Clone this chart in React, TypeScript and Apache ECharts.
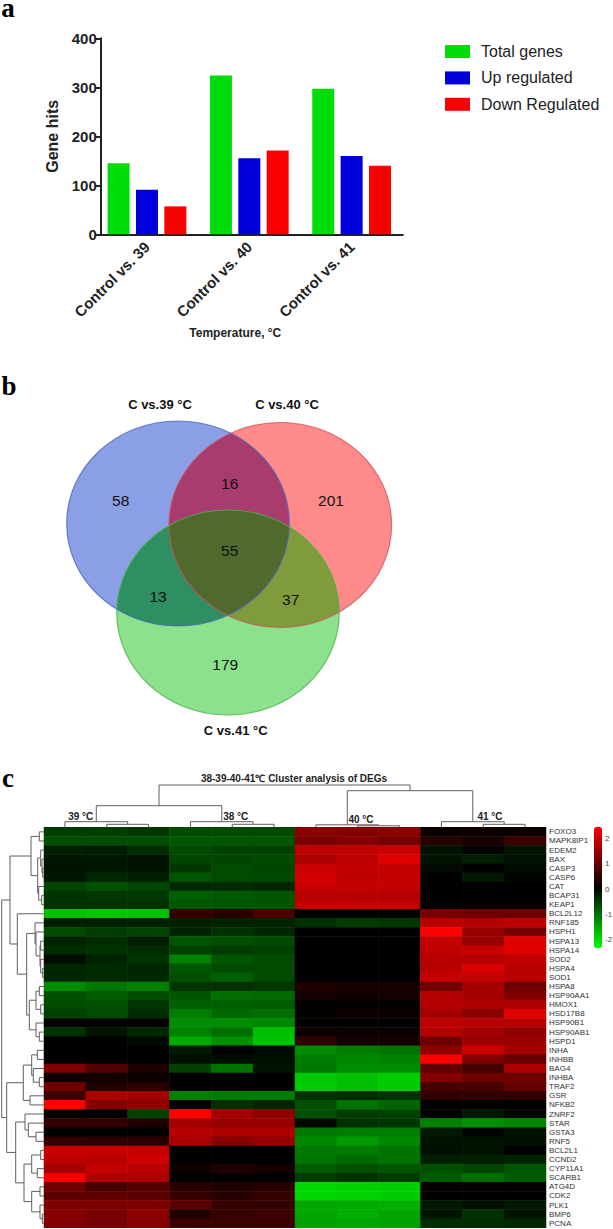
import React, { useEffect, useRef } from "react";
import * as echarts from "echarts";

const SANS = "Liberation Sans";
const barCategories = ["Control vs. 39", "Control vs. 40", "Control vs. 41"];
const totalGenes = [145, 324, 297];
const upRegulated = [91, 155, 160];
const downRegulated = [57, 171, 140];

const vennSets = [
  { name: "C vs.39 °C", cx: 178, cy: 523.5, fill: "#8a9fe6", stroke: "#4a63bd" },
  { name: "C vs.40 °C", cx: 280.3, cy: 525, fill: "#ff8a8a", stroke: "#c9505f" },
  { name: "C vs.41 °C", cx: 228, cy: 612.5, fill: "#8ce28c", stroke: "#4db04d" },
];
const vennCounts = [58, 201, 179, 16, 13, 37, 55];
const vennCountPos = [
  [120.7, 500], [331, 500], [225.3, 664.3], [229.7, 483.3], [158, 596.7], [290.7, 599], [229.7, 550],
];

const genes = ["FOXO3","MAPK8IP1","EDEM2","BAX","CASP3","CASP6","CAT","BCAP31","KEAP1","BCL2L12","RNF185","HSPH1","HSPA13","HSPA14","SOD2","HSPA4","SOD1","HSPA8","HSP90AA1","HMOX1","HSD17B8","HSP90B1","HSP90AB1","HSPD1","INHA","INHBB","BAG4","INHBA","TRAF2","GSR","NFKB2","ZNRF2","STAR","GSTA3","RNF5","BCL2L1","CCND2","CYP11A1","SCARB1","ATG4D","CDK2","PLK1","BMP6","PCNA"];
const samples = ["39-1","39-2","39-3","38-1","38-2","38-3","40-1","40-2","40-3","41-1","41-2","41-3"];

const values39 = [
  [-.56,-.58,-.52],[-.73,-.73,-.73],[-.28,-.26,-.42],[-.21,-.21,-.19],[-.19,-.21,-.17],[-.21,-.38,-.28],[-.66,-.75,-.66],[-.47,-.52,-.52],[-.47,-.47,-.47],[-1.79,-1.88,-1.84],[-.3,-.28,-.28],
  [-.71,-.56,-.66],[-.33,-.42,-.28],[-.42,-.47,-.42],[-.11,-.33,-.47],[-.36,-.4,-.38],[-.38,-.4,-.38],[-1.32,-1.13,-1.22],[-.75,-.85,-.71],[-.71,-.75,-.52],[-.61,-.71,-.42],[0,0,0],[-.47,-.19,-.38],
  [0,0,-.09],[0,0,0],[0,0,0],[1.22,.75,.28],[.14,.19,.14],[1.04,.28,.38],[.56,1.65,1.55],[2.4,1.22,1.36],[0,0,-.61],[.47,.47,.28],[0,0,0],[.47,.42,.42],[1.88,1.88,1.84],[1.79,1.74,1.98],[1.55,1.84,1.74],[2.31,1.65,1.65],[1.04,.66,.8],[.85,.89,.85],[1.18,1.18,1.18],[1.27,1.13,1.32],[1.22,1.13,1.27],
];
const values38 = [
  [-.71,-.71,-.71],[-.8,-.8,-.8],[-.71,-.61,-.61],[-.66,-.66,-.71],[-.52,-.71,-.66],[-.8,-.71,-.71],[-.38,-.4,-.36],[-.89,-.85,-.8],[-.8,-.8,-.8],[.52,.38,.71],[-.3,-.33,-.33],
  [-.33,-.47,-.38],[-.8,-.75,-.71],[-.61,-.56,-.61],[-1.22,-.8,-.71],[-.8,-.71,-.71],[-.75,-.89,-.71],[-.52,-.47,-.52],[-.8,-1.04,-.99],[-.89,-.89,-.85],[-1.18,-.99,-1.04],[-1.32,-1.32,-1.27],[-1.22,-1.04,-1.79],
  [-1.6,-1.36,-1.84],[-.24,0,-.09],[-.14,-.11,-.14],[-.61,-1.08,-.19],[0,0,0],[0,0,0],[-1.22,-1.18,-1.18],[0,-.42,-.33],[2.4,1.55,1.32],[1.55,1.41,1.41],[1.69,1.65,1.65],[1.6,1.27,1.41],[0,0,0],[0,0,0],[.14,.28,.19],[0,0,0],[.38,.28,.38],[.52,.38,.52],[.85,.52,.47],[.28,.52,.56],[.56,.56,.56],
];
const values40 = [
  [1.32,1.27,1.32],[1.13,1.22,1.08],[1.79,1.79,1.84],[1.6,1.79,2.12],[1.88,1.84,1.84],[1.98,1.79,1.84],[1.88,1.84,1.84],[1.74,1.74,1.69],[1.84,1.79,1.79],[0,0,0],[-.47,-.56,-.52],
  [0,0,0],[0,0,0],[0,0,0],[0,0,0],[0,0,0],[0,0,0],[.28,.24,.24],[.19,.14,.19],[.05,.05,.05],[.05,.11,.08],[0,0,0],[.14,.11,.09],
  [.47,.19,.19],[-1.32,-1.18,-1.08],[-1.18,-1.27,-1.22],[-1.13,-1.32,-1.32],[-1.88,-1.79,-1.93],[-1.93,-1.79,-1.93],[-.47,-.42,-.47],[-.75,-1.08,-.94],[-.75,-.56,-.61],[-.09,-.47,-.52],[-1.13,-1.18,-1.18],[-1.27,-1.46,-1.27],[-1.13,-1.18,-1.08],[-1.08,-.99,-1.08],[-.85,-.75,-.8],[-.56,-.47,-.56],[-2.02,-1.98,-1.93],[-2.02,-1.98,-1.93],[-1.55,-1.6,-1.65],[-1.55,-1.65,-1.55],[-1.51,-1.55,-1.51],
];
const values41 = [
  [.09,.11,.09],[.38,.24,.56],[-.17,.05,-.19],[-.19,-.28,-.17],[-.09,0,-.11],[0,-.24,-.05],[0,0,0],[0,0,0],[0,0,0],[1.13,1.04,1.04],[1.74,1.69,1.79],
  [2.4,1.41,1.13],[1.84,1.41,2.12],[1.79,1.88,2.12],[1.74,1.69,1.79],[1.74,2.02,1.74],[1.88,1.84,1.74],[1.08,1.55,1.04],[1.69,1.55,1.22],[1.69,1.65,1.6],[1.55,1.32,2.12],[1.79,1.74,1.74],[1.69,1.51,1.36],
  [1.04,1.46,1.46],[1.32,1.93,1.55],[2.4,1.22,.94],[.94,.66,1.6],[1.22,1.04,1.04],[.66,.66,.94],[.47,.47,.47],[0,.03,0],[0,-.24,-.05],[-1.22,-1.36,-1.27],[-.24,-.05,-.17],[-.17,-.19,-.14],[-.14,-.17,0],[-.28,-.28,-.33],[-.75,-.66,-.8],[-.85,-1.04,-.85],[.05,.05,.05],[0,0,0],[-.24,-.14,-.24],[-.19,-.47,-.19],[-.42,-.42,-.38],
];
const heatTemps = [values39, values38, values40, values41];
const groupLabels = [
  { text: "39 °C", x: 80.7, y: 816.7 }, { text: "38 °C", x: 235.7, y: 816.7 },
  { text: "40 °C", x: 361, y: 819.3 }, { text: "41 °C", x: 490, y: 816.7 },
];
const colorbarTicks = [2, 1, 0, -1, -2];

// dendrograms: [height, left child, right child]; a number is a leaf index
type T = number | [number, T, T];
const columnTree: T = [42.3,
  [21.6, [5.6, 0, [3, 1, 2]], [5.6, 3, [3, 4, 5]]],
  [36.6, [2.5, 6, [1.5, 7, 8]], [5.6, 9, [3, 10, 11]]]];
const rowTree: T = [42.3,
  [34,
    [13, [4.7, 0, 1], [6.3, [3.3, 2, [2, 3, [1.3, 4, 5]]], [5.3, 6, [2.3, 7, 8]]]],
    [26.7, 9, [17.3,
      [9, 10, [8, 11, [4, [3.3, 12, 13], [3.3, 14, [1.3, 15, 16]]]]],
      [14.7, [8, [4.7, 17, 18], [3.3, 19, 20]], [8, 21, [4.7, 22, 23]]]]]],
  [37.3,
    [20.7, [12.3, [6.7, 24, 25], [10.7, 26, [4.7, 27, 28]]], [14, 29, 30]],
    [28.3, [19, 31, [15.7, 32, [8, 33, 34]]],
      [20, [12.3, [3.3, 35, 36], [6.7, 37, 38]], [12.3, [4, 39, 40], [4, 41, [1.7, 42, 43]]]]]]];

function flatten(t: T, out: number[][]): { pos: number; h: number } {
  if (typeof t === "number") return { pos: t + 0.5, h: 0 };
  const a = flatten(t[1], out);
  const b = flatten(t[2], out);
  out.push([a.pos, a.h, b.pos, b.h, t[0]]);
  return { pos: (a.pos + b.pos) / 2, h: t[0] };
}

function ellipsePoly(cx: number, cy: number, rx = 111.3, ry = 102.5) {
  const pts: number[][] = [];
  for (let i = 0; i < 240; i++) {
    const a = (i / 240) * Math.PI * 2;
    pts.push([cx + rx * Math.cos(a), cy + ry * Math.sin(a)]);
  }
  return pts;
}
function clipToEllipse(poly: number[][], cx: number, cy: number, rx = 111.3, ry = 102.5) {
  return poly.filter((p) => ((p[0] - cx) / rx) ** 2 + ((p[1] - cy) / ry) ** 2 <= 1);
}
// intersection of convex ellipses: boundary points of each inside the others, ordered by angle
function region(ids: number[]) {
  const pts: number[][] = [];
  ids.forEach((i) => {
    let p = ellipsePoly(vennSets[i].cx, vennSets[i].cy);
    ids.forEach((j) => { if (j !== i) p = clipToEllipse(p, vennSets[j].cx, vennSets[j].cy); });
    pts.push(...p);
  });
  const mx = pts.reduce((s, p) => s + p[0], 0) / pts.length;
  const my = pts.reduce((s, p) => s + p[1], 0) / pts.length;
  return pts.sort((a, b) => Math.atan2(a[1] - my, a[0] - mx) - Math.atan2(b[1] - my, b[0] - mx));
}

const vennOverlaps = [
  { ids: [0, 1], fill: "#a93c6f" },
  { ids: [0, 2], fill: "#2e8f62" },
  { ids: [1, 2], fill: "#7f9b3c" },
  { ids: [0, 1, 2], fill: "#4f6a2c" },
];

function txt(text: string, x: number, y: number, fontSize: number, extra: any = {}) {
  return {
    type: "text", z: 20,
    style: { text, x, y, fontSize, fontFamily: SANS, fill: "#111", align: "center", verticalAlign: "middle", ...extra },
  };
}

export default function App() {
  const ref = useRef<HTMLDivElement>(null);
  useEffect(() => {
    document.body.style.margin = "0";
    document.body.style.background = "#fff";
    const chart = echarts.init(ref.current!, null, { renderer: "svg" });
    const colMerges: number[][] = []; flatten(columnTree, colMerges);
    const rowMerges: number[][] = []; flatten(rowTree, rowMerges);
    const heatData: number[][] = [];
    genes.forEach((_, r) => heatTemps.forEach((m, g) => m[r].forEach((v, c) => heatData.push([g * 3 + c, r, v]))));

    const vennGraphics: any[] = [];
    vennSets.forEach((s) => vennGraphics.push({ type: "ellipse", z: 5, shape: { cx: s.cx, cy: s.cy, rx: 111.3, ry: 102.5 }, style: { fill: s.fill } }));
    vennOverlaps.forEach((o) => vennGraphics.push({ type: "polygon", z: 6, shape: { points: region(o.ids) }, style: { fill: o.fill } }));
    vennSets.forEach((s) => vennGraphics.push({ type: "ellipse", z: 7, shape: { cx: s.cx, cy: s.cy, rx: 111.3, ry: 102.5 }, style: { fill: "none", stroke: s.stroke, lineWidth: 1.2, opacity: 0.75 } }));

    const dendro = (horizontal: boolean) => (_: any, api: any) => {
      const at = (p: number, h: number) => api.coord(horizontal ? [p, h] : [h, p]);
      const a = api.value(0), ah = api.value(1), b = api.value(2), bh = api.value(3), m = api.value(4);
      return {
        type: "polyline",
        shape: { points: [at(a, ah), at(a, m), at(b, m), at(b, bh)] },
        style: { stroke: "#5f5f5f", fill: "none", lineWidth: 1 },
      };
    };
    const hiddenAxis = { show: false, axisLine: { show: false }, axisTick: { show: false }, axisLabel: { show: false }, splitLine: { show: false } };

    const barSeries = (name: string, data: number[], color: string) => ({
      name, type: "bar", data, xAxisIndex: 0, yAxisIndex: 0, barWidth: 22, barGap: "29%", itemStyle: { color },
    });

    chart.setOption({
      animation: false,
      backgroundColor: "#fff",
      textStyle: { fontFamily: SANS },
      grid: [
        { left: 95.8, top: 38.3, width: 307, height: 196 },
        { left: 44, top: 827.3, width: 502, height: 400.5 },
        { left: 44, top: 783, width: 502, height: 44.3 },
        { left: 0, top: 827.3, width: 44, height: 400.5 },
      ],
      xAxis: [
        {
          gridIndex: 0, type: "category", data: barCategories,
          axisLine: { lineStyle: { color: "#222", width: 2 } },
          axisTick: { alignWithLabel: true, length: 5, lineStyle: { color: "#222", width: 2 } },
          axisLabel: { rotate: 45, fontSize: 15, fontWeight: "bold", color: "#222", margin: 10, interval: 0 },
          name: "Temperature, °C", nameLocation: "middle", nameGap: 93,
          nameTextStyle: { fontSize: 12, fontWeight: "bold", color: "#222", padding: [0, 28, 0, 0] },
        },
        { gridIndex: 1, type: "category", data: samples, ...hiddenAxis },
        { gridIndex: 2, type: "value", min: 0, max: 12, ...hiddenAxis },
        { gridIndex: 3, type: "value", min: 0, max: 44, inverse: true, ...hiddenAxis },
      ],
      yAxis: [
        {
          gridIndex: 0, type: "value", min: 0, max: 400, interval: 100, offset: -5,
          axisLine: { show: true, lineStyle: { color: "#222", width: 2 } },
          axisTick: { show: true, length: 5, lineStyle: { color: "#222", width: 2 } },
          axisLabel: { fontSize: 15, fontWeight: "bold", color: "#222", margin: 4 },
          splitLine: { show: false },
          name: "Gene hits", nameLocation: "middle", nameGap: 35,
          nameTextStyle: { fontSize: 16, fontWeight: "bold", color: "#222" },
        },
        {
          gridIndex: 1, type: "category", data: genes, inverse: true, position: "right",
          axisLine: { show: false }, axisTick: { show: false }, splitLine: { show: false },
          axisLabel: { fontSize: 8, color: "#333", margin: 3, interval: 0 },
        },
        { gridIndex: 2, type: "value", min: 0, max: 44.3, ...hiddenAxis },
        { gridIndex: 3, type: "value", min: 0, max: 44, inverse: true, ...hiddenAxis },
      ],
      legend: {
        left: 445, top: 43.5, orient: "vertical", padding: 0, itemWidth: 25, itemHeight: 13, itemGap: 10.4,
        selectedMode: false, icon: "rect",
        textStyle: { fontSize: 16, color: "#222", padding: [0, 0, 0, 6], lineHeight: 16 },
        data: ["Total genes", "Up regulated", "Down Regulated"],
      },
      visualMap: {
        type: "continuous", seriesIndex: 3, dimension: 2, min: -2.4, max: 2.4, left: 594, top: 827,
        itemWidth: 8, itemHeight: 121, padding: 0, calculable: false, showLabel: false, text: null, hoverLink: false,
        inRange: { color: ["#00ff00", "#000000", "#ff0000"] },
      },
      series: [
        barSeries("Total genes", totalGenes, "#00dc0a"),
        barSeries("Up regulated", upRegulated, "#0000dc"),
        barSeries("Down Regulated", downRegulated, "#fa0000"),
        { type: "heatmap", xAxisIndex: 1, yAxisIndex: 1, data: heatData, itemStyle: { borderWidth: 0 }, emphasis: { disabled: true } },
        { type: "custom", xAxisIndex: 2, yAxisIndex: 2, coordinateSystem: "cartesian2d", data: colMerges, renderItem: dendro(true), silent: true, clip: false },
        { type: "custom", xAxisIndex: 3, yAxisIndex: 3, coordinateSystem: "cartesian2d", data: rowMerges, renderItem: dendro(false), silent: true, clip: false },
      ],
      graphic: [
        ...vennGraphics,
        ...vennCounts.map((c, i) => txt(String(c), vennCountPos[i][0], vennCountPos[i][1], 15.5)),
        txt(vennSets[0].name, 160, 404.7, 13, { fontWeight: "bold" }),
        txt(vennSets[1].name, 287, 404.7, 13, { fontWeight: "bold" }),
        txt(vennSets[2].name, 235.7, 730, 13, { fontWeight: "bold" }),
        txt("a", 8, 7.5, 27, { fontFamily: "Liberation Serif", fontWeight: "bold", fill: "#000" }),
        txt("b", 9, 385.5, 27, { fontFamily: "Liberation Serif", fontWeight: "bold", fill: "#000" }),
        txt("c", 8, 778, 27, { fontFamily: "Liberation Serif", fontWeight: "bold", fill: "#000" }),
        txt("38-39-40-41℃ Cluster analysis of DEGs", 294, 778, 10, { fontWeight: "bold", fill: "#222" }),
        ...groupLabels.map((g) => txt(g.text, g.x, g.y, 10, { fontWeight: "bold", fill: "#222" })),
        ...colorbarTicks.map((t) => txt(String(t), 605, 889 - 25.4 * t, 8, { align: "left", fill: "#444" })),
      ],
    });
    return () => chart.dispose();
  }, []);
  return <div ref={ref} style={{ position: "absolute", left: 0, top: 0, width: 613, height: 1229 }} />;
}
